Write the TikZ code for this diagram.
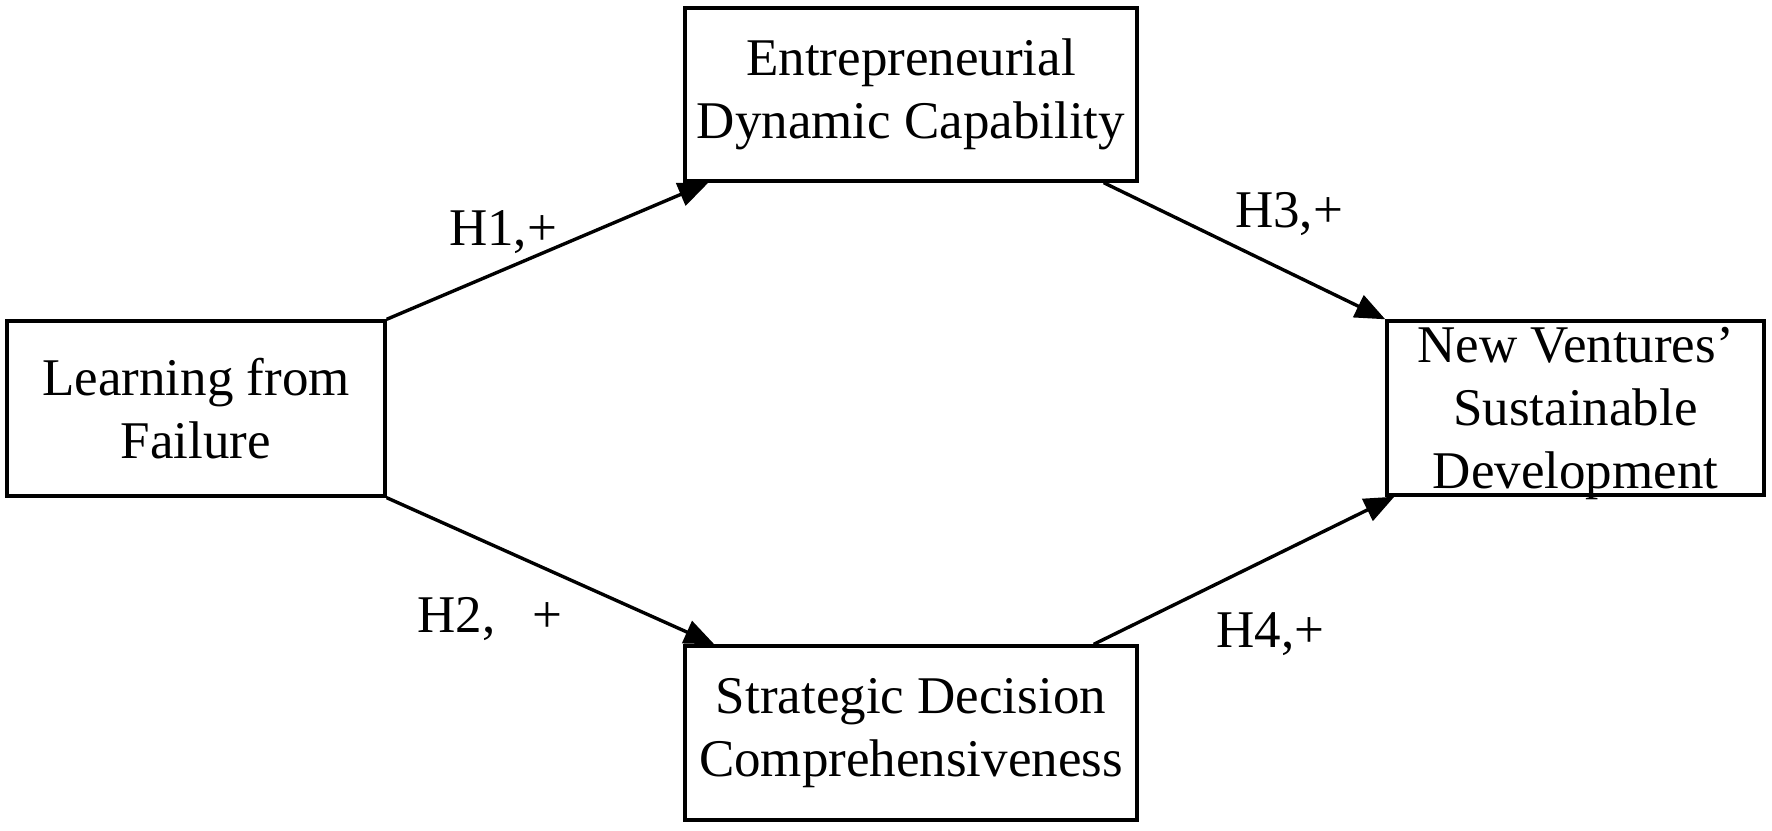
\documentclass[tikz,border=0pt]{standalone}
\usepackage{fontspec}
\setmainfont{Liberation Serif}
\usetikzlibrary{arrows.meta,backgrounds}
\begin{document}
\begin{tikzpicture}[x=0.5pt,y=-0.5pt,
  box/.style={draw=black,line width=1.7pt,fill=white,inner sep=0pt,align=center,
    font=\fontsize{26.5}{31.5}\selectfont},
  conn/.style={line width=1.7pt,-{Triangle[length=15pt,width=12pt]}},
  lbl/.style={inner sep=0pt,anchor=base,font=\fontsize{26.5}{31.5}\selectfont}]
\useasboundingbox (0,0) rectangle (1772,830);
\node[box,minimum width=189pt,minimum height=87.5pt] (lf) at (196,408.5) {Learning from\\Failure};
\node[box,minimum width=188.5pt,minimum height=87pt] (nv) at (1575.5,408) {New Ventures’\\Sustainable\\\raisebox{0pt}[\height][0pt]{Development}};
\node[box,minimum width=226pt,minimum height=86.5pt] (edc) at (911,94.5) {Entrepreneurial\\Dynamic Capability};
\node[box,minimum width=226pt,minimum height=87pt] (sdc) at (911,733) {Strategic Decision\\Comprehensiveness};
\begin{scope}[on background layer]
\draw[conn] (lf.north east) -- ([xshift=12.5pt]edc.south west);
\draw[conn] (lf.south east) -- ([xshift=15.5pt]sdc.north west);
\draw[conn] ([xshift=-17.5pt]edc.south east) -- (nv.north west);
\draw[conn] ([xshift=-22.5pt]sdc.north east) -- ([xshift=4.5pt]nv.south west);
\end{scope}
\node[lbl] (h1) at (503,245) {H1,+};
\node[lbl] (h3) at (1289,227) {H3,+};
\node[lbl] (h2) at (490,632) {H2,\hspace{0.7em}+};
\node[lbl] (h4) at (1270.5,647) {H4,+};
\end{tikzpicture}
\end{document}
